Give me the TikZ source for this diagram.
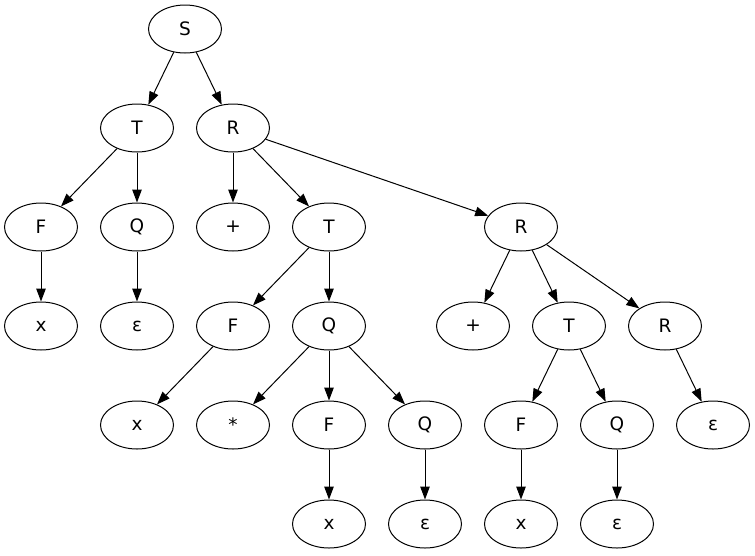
\documentclass[tikz,border=0pt]{standalone}
\usepackage{fontspec}
\setmainfont{DejaVu Sans}
\usetikzlibrary{shapes.geometric,arrows.meta}
\begin{document}
\begin{tikzpicture}[x=1pt,y=-1pt,
  tn/.style={draw,ellipse,line width=1pt,minimum width=73pt,minimum height=48pt,inner sep=0pt,font=\fontsize{18.5}{20}\selectfont},
  ed/.style={draw,line width=1pt,-{Triangle[length=13pt,width=9.5pt]}}]
\useasboundingbox (0,0) rectangle (755,555);
\node[tn] (S) at (185,29) {S};
\node[tn] (T1) at (137,128) {T};
\node[tn] (R1) at (233,128) {R};
\node[tn] (F1) at (41,227) {F};
\node[tn] (Q1) at (137,227) {Q};
\node[tn] (P1) at (233,227) {+};
\node[tn] (T2) at (329,227) {T};
\node[tn] (R2) at (521,227) {R};
\node[tn] (X1) at (41,326) {x};
\node[tn] (E1) at (137,326) {ε};
\node[tn] (F2) at (233,326) {F};
\node[tn] (Q2) at (329,326) {Q};
\node[tn] (P2) at (473,326) {+};
\node[tn] (T3) at (569,326) {T};
\node[tn] (R3) at (665,326) {R};
\node[tn] (X2) at (137,425) {x};
\node[tn] (M1) at (233,425) {*};
\node[tn] (F3) at (329,425) {F};
\node[tn] (Q3) at (425,425) {Q};
\node[tn] (F4) at (521,425) {F};
\node[tn] (Q4) at (617,425) {Q};
\node[tn] (E2) at (713,425) {ε};
\node[tn] (X3) at (329,524) {x};
\node[tn] (E3) at (425,524) {ε};
\node[tn] (X4) at (521,524) {x};
\node[tn] (E4) at (617,524) {ε};
\draw[ed] (S) -- (T1);
\draw[ed] (S) -- (R1);
\draw[ed] (T1) -- (F1);
\draw[ed] (T1) -- (Q1);
\draw[ed] (R1) -- (P1);
\draw[ed] (R1) -- (T2);
\draw[ed] (R1) -- (R2);
\draw[ed] (F1) -- (X1);
\draw[ed] (Q1) -- (E1);
\draw[ed] (T2) -- (F2);
\draw[ed] (T2) -- (Q2);
\draw[ed] (R2) -- (P2);
\draw[ed] (R2) -- (T3);
\draw[ed] (R2) -- (R3);
\draw[ed] (F2) -- (X2);
\draw[ed] (Q2) -- (M1);
\draw[ed] (Q2) -- (F3);
\draw[ed] (Q2) -- (Q3);
\draw[ed] (T3) -- (F4);
\draw[ed] (T3) -- (Q4);
\draw[ed] (R3) -- (E2);
\draw[ed] (F3) -- (X3);
\draw[ed] (Q3) -- (E3);
\draw[ed] (F4) -- (X4);
\draw[ed] (Q4) -- (E4);
\end{tikzpicture}
\end{document}
